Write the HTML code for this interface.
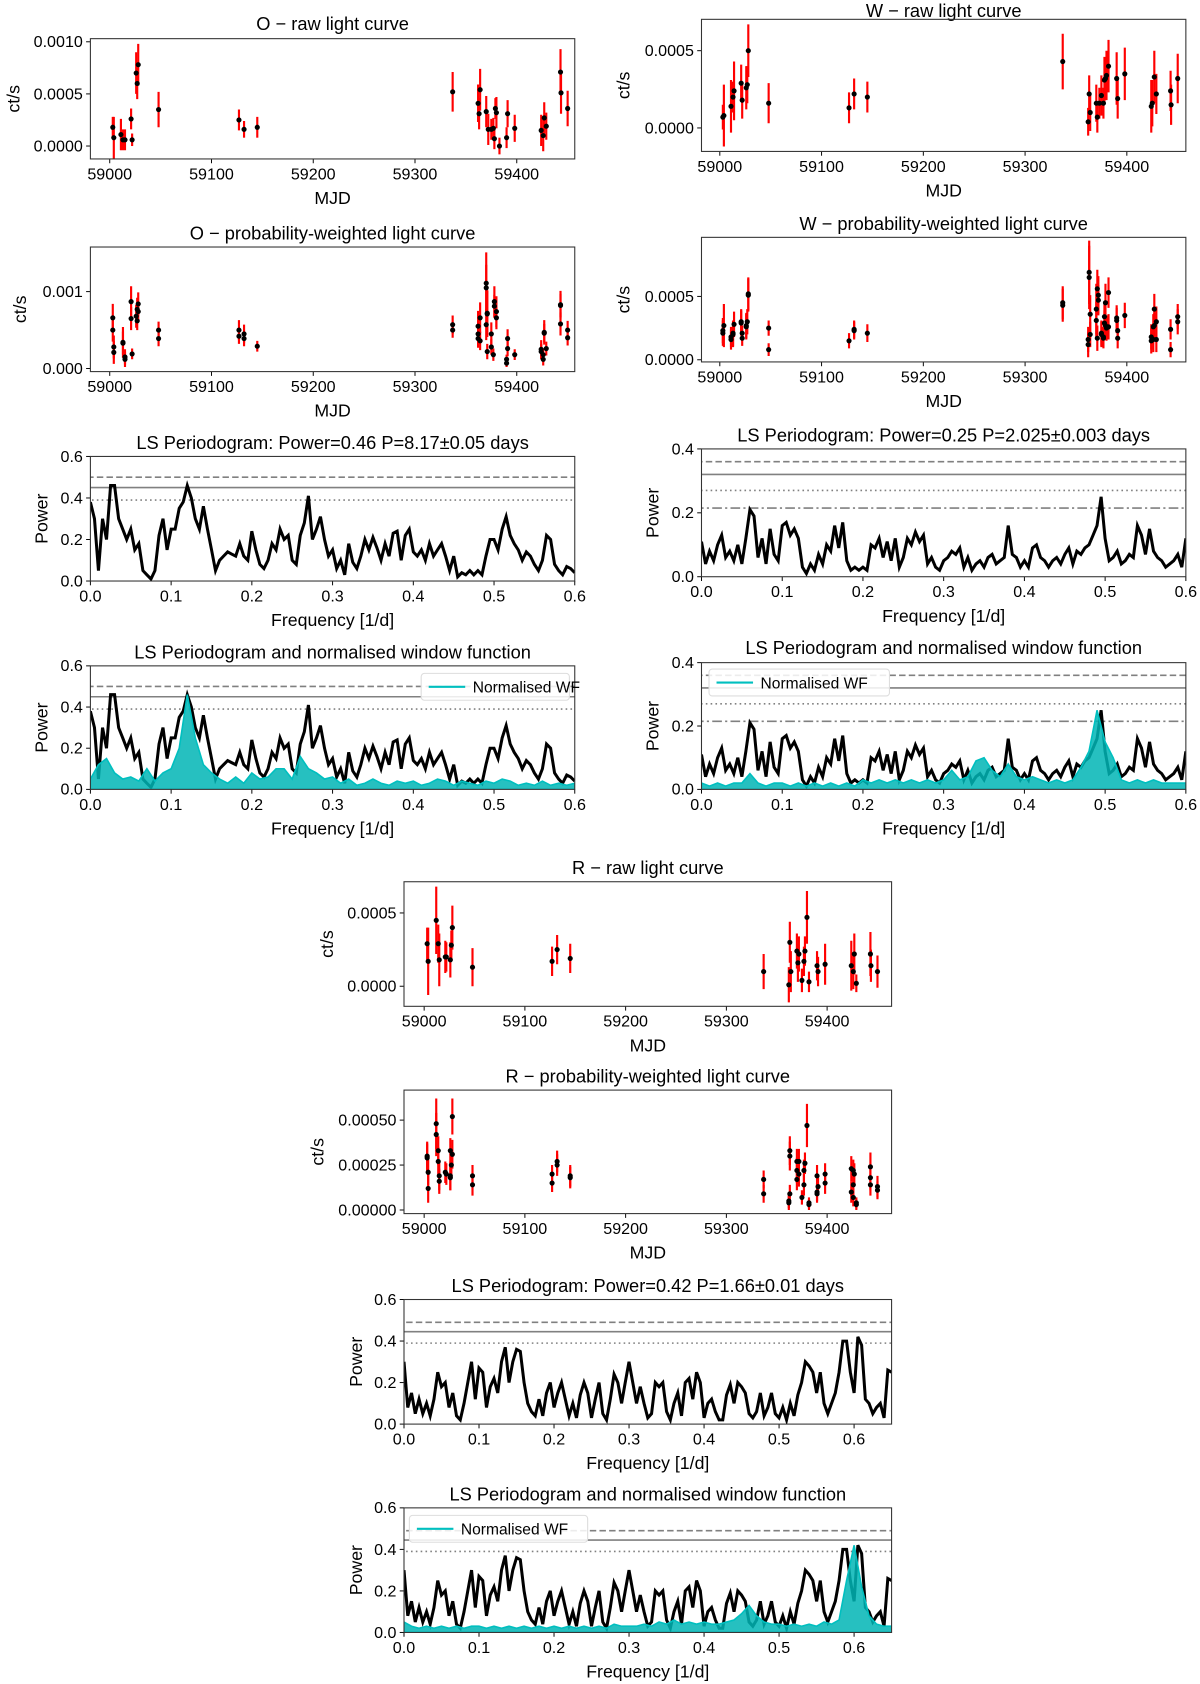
<!DOCTYPE html>
<html><head><meta charset="utf-8"><title>Light curves and LS periodograms</title>
<style>html,body{margin:0;padding:0;background:#fff;}svg{display:block;font-family:"Liberation Sans",sans-serif;}</style>
</head><body>
<svg id="fig" xmlns="http://www.w3.org/2000/svg" width="1200" height="1684" viewBox="0 0 1117 1568"></svg>
<script>
// ---------- DATA ----------
// O raw
const oRawT=[59003,59004,59011,59013,59015,59021,59022,59026,59027,59028,59048,59127,59132,59145,59337,59362,59363,59364,59370,59372,59375,59377,59378,59379,59380,59383,59390,59391,59398,59424,59426,59427,59429,59443,59443.5,59450];
const oRawY=[0.00018,0.00008,0.00011,0.00006,0.00006,0.00026,0.00006,0.00070,0.00060,0.00078,0.00035,0.00025,0.00016,0.00018,0.00052,0.00041,0.00031,0.00054,0.00033,0.00016,0.00016,0.00017,0.00007,0.00036,0.00032,0.00000,0.00008,0.00031,0.00017,0.00015,0.00010,0.00027,0.00019,0.00071,0.00051,0.00036];
const oRawE=[0.0001,0.0002,0.00015,0.0001,0.0001,0.0001,0.00006,0.0002,0.00015,0.0002,0.00017,0.0001,0.00008,0.0001,0.00019,0.00018,0.00015,0.0002,0.00015,0.00015,0.0001,0.0001,0.0001,0.0001,0.00015,0.00008,0.0001,0.00013,0.00013,0.00015,0.00015,0.00015,0.00013,0.00022,0.0002,0.00017];
// O probability-weighted
const oPrT=[59003,59003,59004,59004,59013,59013,59015,59015,59021,59021,59022,59026,59027,59027,59028,59028,59048,59048,59127,59127,59132,59132,59145,59337,59337,59362,59362,59362,59364,59364,59370,59370,59370,59371,59371,59371,59375,59375,59377,59378,59378,59380,59380,59390,59390,59391,59391,59398,59424,59424,59426,59426,59427,59427,59429,59443,59443,59443,59450,59450];
const oPrY=[0.00066,0.0005,0.00028,0.00021,0.00034,0.00033,0.00015,0.00012,0.00087,0.00065,0.00019,0.00068,0.00077,0.00062,0.00084,0.00074,0.0005,0.00039,0.0005,0.00042,0.00045,0.00039,0.00029,0.00057,0.0005,0.00045,0.00055,0.00039,0.00066,0.00036,0.00111,0.00105,0.00057,0.00072,0.00071,0.00022,0.00045,0.00028,0.00018,0.00087,0.00081,0.00074,0.00066,0.00012,0.00007,0.00039,0.00026,0.00018,0.00025,0.00022,0.00012,0.00018,0.00047,0.00046,0.00026,0.00083,0.00082,0.00058,0.0005,0.0004];
const oPrE=[0.00018,0.00015,0.00015,0.00015,0.0002,0.00015,0.0001,0.0001,0.0002,0.00015,0.00007,0.00015,0.00015,0.00012,0.00015,0.00012,0.00011,0.0001,0.00013,0.0001,0.00012,0.0001,0.00007,0.00012,0.0001,0.00016,0.0002,0.00012,0.0002,0.00012,0.0004,0.0003,0.0002,0.0003,0.0003,0.0001,0.00015,0.0001,0.00008,0.0002,0.00015,0.0002,0.00015,0.00006,0.00005,0.00012,0.0001,0.00007,0.00012,0.0001,0.00008,0.00008,0.00016,0.00012,0.00009,0.00018,0.00015,0.00015,0.00012,0.0001];
// W raw
const wRawT=[59003,59004,59011,59013,59014,59021,59022,59026,59027,59028,59048,59127,59132,59145,59337,59362,59363,59364,59370,59371,59373,59375,59377,59378,59379,59380,59382,59390,59391,59398,59424,59425,59427,59429,59443,59443.5,59450];
const wRawY=[0.00007,0.00008,0.00014,0.0002,0.00024,0.00029,0.00018,0.00026,0.00028,0.0005,0.00016,0.00013,0.00022,0.0002,0.00043,0.00004,0.00022,0.0001,0.00016,0.00007,0.00016,0.00021,0.00016,0.00031,0.00032,0.00034,0.0004,0.00032,0.00019,0.00035,0.00014,0.00016,0.00033,0.00022,0.00024,0.00015,0.00032];
const wRawE=[0.00008,0.0002,0.00017,0.0001,0.00019,0.00012,0.00012,0.00014,0.00012,0.00017,0.00013,0.0001,0.0001,0.0001,0.00018,0.00009,0.00012,0.00012,0.00012,0.0001,0.0001,0.00013,0.0001,0.00015,0.0001,0.00016,0.00017,0.00017,0.00013,0.00017,0.00017,0.00015,0.00017,0.00013,0.00013,0.00013,0.00016];
// W probability-weighted
const wPrT=[59003,59003,59004,59011,59011,59013,59013,59014,59021,59021,59022,59022,59026,59026,59027,59028,59028,59048,59048,59127,59132,59132,59145,59337,59337,59362,59362,59363,59363,59364,59364,59370,59370,59371,59371,59372,59372,59375,59375,59377,59377,59378,59378,59379,59379,59380,59382,59382,59390,59390,59391,59391,59398,59424,59424,59426,59426,59427,59427,59429,59429,59443,59443,59450,59450];
const wPrY=[0.00023,0.00021,0.00027,0.00016,0.00018,0.0002,0.00021,0.00028,0.0003,0.00029,0.00017,0.00021,0.00027,0.00026,0.0003,0.00051,0.00052,0.00025,0.00008,0.00015,0.00023,0.00024,0.00021,0.00043,0.00045,0.00016,0.00012,0.00069,0.00065,0.00036,0.0002,0.0004,0.00031,0.00056,0.00017,0.00051,0.00047,0.00021,0.0002,0.00018,0.00017,0.00034,0.00029,0.00045,0.00027,0.00025,0.00053,0.00026,0.00033,0.00031,0.00023,0.00017,0.00035,0.00018,0.00015,0.00026,0.00016,0.0004,0.00027,0.0003,0.00016,0.00024,0.00008,0.00034,0.0003];
const wPrE=[0.0001,0.0001,0.00017,0.00008,0.00008,0.0001,0.0001,0.0001,0.0001,0.0001,0.00006,0.00006,0.0001,0.0001,0.0001,0.00013,0.00013,0.00006,0.00005,0.00006,0.00007,0.00007,0.00007,0.00013,0.00013,0.0001,0.0001,0.00025,0.00025,0.00015,0.0001,0.0002,0.00015,0.00015,0.0001,0.00015,0.00012,0.0001,0.0001,0.00008,0.00008,0.00012,0.0001,0.00015,0.0001,0.0001,0.00012,0.0001,0.0001,0.0001,0.00008,0.00008,0.0001,0.0001,0.0001,0.0001,0.0001,0.00012,0.0001,0.00012,0.0001,0.00008,0.00006,0.0001,0.0001];
// R raw
const rRawT=[59003,59004,59012,59014,59015,59021,59022,59026,59027,59028,59048,59127,59132,59145,59337,59362,59363,59364,59370,59371,59372,59375,59377,59378,59380,59382,59390,59391,59398,59424,59426,59427,59429,59443,59443.5,59450];
const rRawY=[0.00029,0.00017,0.00045,0.00029,0.00018,0.0002,0.0002,0.00018,0.00028,0.0004,0.00013,0.00017,0.00025,0.00019,0.0001,0.00001,0.0003,0.0001,0.00024,0.00016,0.00022,0.00004,0.00017,0.00024,0.00047,0.00003,0.00014,0.0001,0.00015,0.00014,0.0001,0.00022,0.00002,0.00022,0.00014,0.0001];
const rRawE=[0.00011,0.00023,0.00023,0.00013,0.00018,0.00011,0.0001,0.00012,0.0001,0.00015,0.00013,0.0001,0.0001,0.0001,0.00012,0.00012,0.00014,0.00014,0.00012,0.00013,0.00012,0.00008,0.0001,0.0001,0.00018,0.00007,0.0001,0.0001,0.00014,0.00017,0.00012,0.00014,0.00006,0.00015,0.00011,0.00011];
// R probability-weighted
const rPrT=[59003,59003,59004,59004,59012,59012,59014,59014,59015,59015,59021,59022,59026,59026,59026,59027,59028,59028,59048,59048,59127,59127,59132,59132,59145,59145,59337,59337,59362,59362,59363,59363,59363,59370,59370,59370,59372,59372,59375,59377,59377,59378,59380,59382,59382,59390,59390,59390,59391,59398,59398,59424,59424,59426,59426,59426,59427,59429,59429,59443,59443,59443,59450,59450];
const rPrY=[0.0003,0.00029,0.00021,0.00012,0.00048,0.00042,0.00033,0.00027,0.00019,0.00016,0.00021,0.0002,0.00019,0.00018,0.00033,0.00025,0.00052,0.00031,0.00019,0.00014,0.0002,0.00015,0.00027,0.00025,0.00019,0.00018,0.00017,0.00009,0.00005,0.00004,0.00033,0.0003,0.00009,0.00027,0.00022,0.00017,0.0002,0.00027,0.00007,0.00014,0.00022,0.00026,0.00047,0.00004,0.00003,0.00019,0.00009,0.0001,0.00013,0.0002,0.00015,0.00023,0.0001,0.00014,0.00007,0.00022,0.0002,0.00004,0.00003,0.00024,0.00018,0.00014,0.00013,0.00011];
const rPrE=[0.00008,0.00008,0.00007,0.00008,0.00014,0.00012,0.00008,0.00008,0.00008,0.00007,0.00006,0.00006,0.00008,0.00007,0.00007,0.00007,0.0001,0.00008,0.00006,0.00006,0.00005,0.00005,0.00006,0.00006,0.00006,0.00006,0.00005,0.00005,0.00004,0.00004,0.00008,0.00008,0.00005,0.00007,0.00007,0.00006,0.00007,0.00007,0.00004,0.00006,0.00006,0.00006,0.00012,0.00003,0.00003,0.00006,0.00005,0.00005,0.00005,0.00006,0.00006,0.00007,0.00006,0.00006,0.00005,0.00006,0.00006,0.00003,0.00003,0.00008,0.00007,0.00006,0.00006,0.00005];

// Periodograms: power sampled every 0.005 1/d
const oLsPower=[0.38,0.3,0.05,0.3,0.2,0.46,0.46,0.3,0.25,0.2,0.25,0.15,0.18,0.05,0.03,0.01,0.05,0.22,0.3,0.15,0.25,0.25,0.35,0.38,0.46,0.4,0.3,0.25,0.36,0.25,0.15,0.05,0.1,0.12,0.14,0.13,0.12,0.18,0.12,0.1,0.24,0.15,0.08,0.06,0.1,0.18,0.15,0.25,0.2,0.22,0.1,0.08,0.22,0.28,0.41,0.2,0.25,0.31,0.2,0.12,0.15,0.06,0.1,0.03,0.18,0.09,0.06,0.12,0.2,0.15,0.21,0.16,0.1,0.18,0.12,0.23,0.24,0.1,0.22,0.25,0.14,0.12,0.15,0.1,0.18,0.12,0.15,0.18,0.12,0.05,0.12,0.02,0.04,0.03,0.05,0.03,0.05,0.03,0.12,0.2,0.2,0.15,0.25,0.31,0.22,0.18,0.15,0.1,0.14,0.12,0.08,0.05,0.1,0.22,0.2,0.08,0.05,0.03,0.07,0.06,0.04];
const wLsPower=[0.11,0.04,0.08,0.05,0.1,0.13,0.06,0.08,0.05,0.1,0.04,0.12,0.21,0.19,0.06,0.12,0.04,0.15,0.07,0.05,0.16,0.17,0.13,0.15,0.12,0.03,0.01,0.04,0.02,0.07,0.04,0.1,0.08,0.16,0.09,0.17,0.05,0.02,0.03,0.02,0.03,0.02,0.1,0.09,0.12,0.06,0.11,0.05,0.12,0.03,0.06,0.12,0.1,0.14,0.11,0.13,0.04,0.06,0.03,0.02,0.05,0.06,0.08,0.07,0.09,0.03,0.06,0.02,0.04,0.05,0.03,0.06,0.07,0.04,0.05,0.06,0.16,0.07,0.06,0.03,0.05,0.03,0.09,0.1,0.06,0.05,0.03,0.05,0.06,0.04,0.07,0.09,0.04,0.08,0.07,0.09,0.1,0.13,0.16,0.25,0.12,0.05,0.06,0.08,0.04,0.05,0.07,0.06,0.16,0.13,0.07,0.15,0.08,0.06,0.05,0.03,0.04,0.05,0.07,0.03,0.12];
const rLsPower=[0.3,0.08,0.15,0.05,0.12,0.05,0.1,0.04,0.12,0.25,0.18,0.2,0.08,0.15,0.04,0.02,0.1,0.2,0.3,0.12,0.27,0.25,0.08,0.18,0.22,0.15,0.3,0.37,0.2,0.3,0.36,0.35,0.2,0.1,0.06,0.04,0.12,0.04,0.15,0.2,0.08,0.15,0.2,0.12,0.04,0.1,0.03,0.14,0.2,0.15,0.03,0.12,0.2,0.05,0.02,0.12,0.24,0.2,0.1,0.2,0.3,0.2,0.1,0.18,0.1,0.03,0.05,0.2,0.18,0.2,0.06,0.02,0.1,0.15,0.04,0.2,0.22,0.12,0.25,0.2,0.03,0.1,0.12,0.06,0.02,0.02,0.14,0.19,0.1,0.2,0.18,0.15,0.05,0.03,0.06,0.15,0.04,0.08,0.15,0.05,0.03,0.08,0.02,0.1,0.04,0.14,0.2,0.3,0.28,0.25,0.15,0.25,0.1,0.05,0.1,0.15,0.25,0.4,0.4,0.25,0.15,0.42,0.38,0.12,0.1,0.05,0.08,0.1,0.03,0.26,0.25];
// Window functions: sampled every 0.01 1/d
const oWf=[0.05,0.12,0.15,0.08,0.05,0.06,0.04,0.1,0.04,0.08,0.1,0.2,0.46,0.25,0.12,0.08,0.05,0.03,0.06,0.03,0.08,0.05,0.06,0.1,0.1,0.05,0.16,0.1,0.08,0.05,0.06,0.03,0.05,0.02,0.03,0.05,0.03,0.02,0.04,0.03,0.04,0.02,0.03,0.05,0.04,0.02,0.04,0.03,0.02,0.04,0.03,0.05,0.04,0.02,0.03,0.02,0.04,0.02,0.03,0.02,0.03];
const wWf=[0.02,0.01,0.02,0.01,0.02,0.02,0.05,0.02,0.01,0.02,0.02,0.01,0.02,0.01,0.02,0.01,0.02,0.01,0.02,0.01,0.03,0.02,0.03,0.02,0.03,0.02,0.03,0.02,0.03,0.02,0.03,0.06,0.03,0.04,0.09,0.1,0.06,0.04,0.08,0.04,0.03,0.04,0.03,0.02,0.03,0.02,0.03,0.07,0.12,0.25,0.15,0.1,0.03,0.02,0.03,0.02,0.03,0.02,0.02,0.02,0.02];
const rWf=[0.05,0.03,0.02,0.03,0.02,0.03,0.02,0.03,0.02,0.03,0.03,0.02,0.03,0.02,0.03,0.02,0.03,0.02,0.03,0.02,0.03,0.02,0.03,0.02,0.03,0.02,0.03,0.02,0.04,0.03,0.03,0.03,0.04,0.03,0.05,0.04,0.06,0.04,0.05,0.04,0.05,0.04,0.04,0.05,0.06,0.09,0.13,0.08,0.05,0.04,0.04,0.03,0.04,0.03,0.04,0.03,0.05,0.04,0.06,0.25,0.42,0.22,0.08,0.04,0.03,0.03];

// Significance levels
const oLevels=[0.50,0.45,0.39];
const wLevels=[0.36,0.32,0.27,0.215];
const rLevels=[0.49,0.445,0.39];

const mjdTicks=[59000,59100,59200,59300,59400];
const mjdTickLabels=["59000","59100","59200","59300","59400"];
const freqTicks=[0,0.1,0.2,0.3,0.4,0.5,0.6];
const freqTickLabels=["0.0","0.1","0.2","0.3","0.4","0.5","0.6"];

// ---------- DRAWING ----------
const NS="http://www.w3.org/2000/svg";
const svg=document.getElementById('fig');
function mk(tag,attrs,parent){const e=document.createElementNS(NS,tag);for(const k in attrs)e.setAttribute(k,attrs[k]);(parent||svg).appendChild(e);return e;}
function txt(s,x,y,size,anchor,parent){const e=mk('text',{x:x,y:y,'font-size':size,'text-anchor':anchor||'middle',fill:'#000'},parent);e.textContent=s;return e;}

function panel(p){
  const g=mk('g',{});
  
  
  const sx=v=>p.x0+(v-p.xlim[0])/(p.xlim[1]-p.xlim[0])*(p.x1-p.x0);
  const sy=v=>p.y1-(v-p.ylim[0])/(p.ylim[1]-p.ylim[0])*(p.y1-p.y0);
  const t=txt(p.title,(p.x0+p.x1)/2,p.titleY,17,'middle',g);
  
  
  p.xticks.forEach((v,i)=>{const x=sx(v);
    mk('line',{x1:x,x2:x,y1:p.y1,y2:p.y1+4,stroke:'#000','stroke-width':0.9},g);
    const l=txt(p.xtickLabels[i],x,p.y1+19,15,'middle',g);
    
    });
  p.yticks.forEach((v,i)=>{const y=sy(v);
    mk('line',{x1:p.x0-4,x2:p.x0,y1:y,y2:y,stroke:'#000','stroke-width':0.9},g);
    const l=txt(p.ytickLabels[i],p.x0-7,y+5,15,'end',g);
    
    });
  const xl=txt(p.xlabel,(p.x0+p.x1)/2,p.y1+42,16.5,'middle',g);
  
  
  const cy=(p.y0+p.y1)/2;
  const yl=txt(p.ylabel,p.ylabelX,cy,16.5,'middle',g);
  yl.setAttribute('transform','rotate(-90 '+p.ylabelX+' '+cy+')');
  
  
  const clipId='c'+Math.round(p.x0)+'_'+Math.round(p.y0);
  const cp=mk('clipPath',{id:clipId},g);mk('rect',{x:p.x0,y:p.y0,width:p.x1-p.x0,height:p.y1-p.y0},cp);
  const plot=mk('g',{'clip-path':'url(#'+clipId+')'},g);
  p.draw(plot,sx,sy);
  const fr=mk('rect',{x:p.x0,y:p.y0,width:p.x1-p.x0,height:p.y1-p.y0,fill:'none',stroke:'#333','stroke-width':1},g);
  
  
  if(p.after)p.after(g,sx,sy);
}

function lightCurve(T,Y,E){return function(g,sx,sy){
  T.forEach((t,i)=>{const x=sx(t);
    const eb=mk('line',{x1:x,x2:x,y1:sy(Y[i]-E[i]),y2:sy(Y[i]+E[i]),stroke:'#ff0000','stroke-width':2},g);
    
    });
  T.forEach((t,i)=>{
    const pt=mk('circle',{cx:sx(t),cy:sy(Y[i]),r:2.4,fill:'#000'},g);
    
    });
};}

const levelStyles=['6,3','','1.5,3','9,3,2,3'];
function periodogram(P,step,levels,wf,wfStep){return function(g,sx,sy){
  levels.forEach((v,i)=>{const y=sy(v);
    const l=mk('line',{x1:0,x2:1200,y1:y,y2:y,stroke:'#808080','stroke-width':1.5},g);
    if(levelStyles[i])l.setAttribute('stroke-dasharray',levelStyles[i]);
    
    });
  const pts=P.map((v,i)=>sx(i*step).toFixed(1)+','+sy(v).toFixed(1)).join(' ');
  const pl=mk('polyline',{points:pts,fill:'none',stroke:'#000','stroke-width':2.8,'stroke-linejoin':'miter'},g);
  
  
  if(wf){
    let d='M'+sx(0)+','+sy(0);
    wf.forEach((v,i)=>{d+=' L'+sx(i*wfStep).toFixed(1)+','+sy(v).toFixed(1);});
    d+=' L'+sx((wf.length-1)*wfStep)+','+sy(0)+' Z';
    const a=mk('path',{d:d,fill:'#00b5b5','fill-opacity':0.85,stroke:'#00bfbf','stroke-width':1.5},g);
    
    
  }
};}

function legend(x,y,w){return function(g){
  const lg=mk('g',{},g);
  
  
  mk('rect',{x:x,y:y,width:w,height:25,rx:3,fill:'#fff','fill-opacity':0.85,stroke:'#ddd'},lg);
  mk('line',{x1:x+7,x2:x+41,y1:y+12.5,y2:y+12.5,stroke:'#00bfbf','stroke-width':2},lg);
  const t=txt('Normalised WF',x+48,y+18,14.5,'start',lg);
  
  
};}

const mjd={xticks:mjdTicks,xtickLabels:mjdTickLabels,xlabel:'MJD',ylabel:'ct/s'};
const frq={xticks:freqTicks,xtickLabels:freqTickLabels,xlabel:'Frequency [1/d]',ylabel:'Power'};

panel(Object.assign({},mjd,{name:'o-raw-light-curve',x0:84,x1:535,y0:36,y1:148,xlim:[58981,59457],ylim:[-0.000124,0.00103],yticks:[0,0.0005,0.001],ytickLabels:['0.0000','0.0005','0.0010'],title:'O \u2212 raw light curve',titleY:28,ylabelX:18,draw:lightCurve(oRawT,oRawY,oRawE)}));
panel(Object.assign({},mjd,{name:'o-weighted-light-curve',x0:84,x1:535,y0:230,y1:346,xlim:[58981,59457],ylim:[-0.00004,0.00158],yticks:[0,0.001],ytickLabels:['0.000','0.001'],title:'O \u2212 probability-weighted light curve',titleY:223,ylabelX:24,draw:lightCurve(oPrT,oPrY,oPrE)}));
panel(Object.assign({},frq,{name:'o-ls-periodogram',x0:84,x1:535,y0:425,y1:541,xlim:[0,0.6],ylim:[0,0.6],yticks:[0,0.2,0.4,0.6],ytickLabels:['0.0','0.2','0.4','0.6'],title:'LS Periodogram: Power=0.46 P=8.17\u00b10.05 days',titleY:418,ylabelX:44,draw:periodogram(oLsPower,0.005,oLevels)}));
panel(Object.assign({},frq,{name:'o-ls-window-function',x0:84,x1:535,y0:620,y1:735,xlim:[0,0.6],ylim:[0,0.6],yticks:[0,0.2,0.4,0.6],ytickLabels:['0.0','0.2','0.4','0.6'],title:'LS Periodogram and normalised window function',titleY:613,ylabelX:44,draw:periodogram(oLsPower,0.005,oLevels,oWf,0.01),after:legend(392,627,138)}));
panel(Object.assign({},mjd,{name:'w-raw-light-curve',x0:653,x1:1104,y0:18,y1:141,xlim:[58982,59458],ylim:[-0.000152,0.000703],yticks:[0,0.0005],ytickLabels:['0.0000','0.0005'],title:'W \u2212 raw light curve',titleY:16,ylabelX:586,draw:lightCurve(wRawT,wRawY,wRawE)}));
panel(Object.assign({},mjd,{name:'w-weighted-light-curve',x0:653,x1:1104,y0:221,y1:337,xlim:[58982,59458],ylim:[-0.000017,0.000966],yticks:[0,0.0005],ytickLabels:['0.0000','0.0005'],title:'W \u2212 probability-weighted light curve',titleY:214,ylabelX:586,draw:lightCurve(wPrT,wPrY,wPrE)}));
panel(Object.assign({},frq,{name:'w-ls-periodogram',x0:653,x1:1104,y0:418,y1:537,xlim:[0,0.6],ylim:[0,0.4],yticks:[0,0.2,0.4],ytickLabels:['0.0','0.2','0.4'],title:'LS Periodogram: Power=0.25 P=2.025\u00b10.003 days',titleY:411,ylabelX:613,draw:periodogram(wLsPower,0.005,wLevels)}));
panel(Object.assign({},frq,{name:'w-ls-window-function',x0:653,x1:1104,y0:617,y1:735,xlim:[0,0.6],ylim:[0,0.4],yticks:[0,0.2,0.4],ytickLabels:['0.0','0.2','0.4'],title:'LS Periodogram and normalised window function',titleY:609,ylabelX:613,draw:periodogram(wLsPower,0.005,wLevels,wWf,0.01),after:legend(660,623,168)}));
panel(Object.assign({},mjd,{name:'r-raw-light-curve',x0:376,x1:830,y0:821,y1:937,xlim:[58980,59464],ylim:[-0.000137,0.000713],yticks:[0,0.0005],ytickLabels:['0.0000','0.0005'],title:'R \u2212 raw light curve',titleY:814,ylabelX:310,draw:lightCurve(rRawT,rRawY,rRawE)}));
panel(Object.assign({},mjd,{name:'r-weighted-light-curve',x0:376,x1:830,y0:1015,y1:1130,xlim:[58980,59464],ylim:[-0.00002,0.000667],yticks:[0,0.00025,0.0005],ytickLabels:['0.00000','0.00025','0.00050'],title:'R \u2212 probability-weighted light curve',titleY:1008,ylabelX:301,draw:lightCurve(rPrT,rPrY,rPrE)}));
panel(Object.assign({},frq,{name:'r-ls-periodogram',x0:376,x1:830,y0:1210,y1:1326,xlim:[0,0.65],ylim:[0,0.6],yticks:[0,0.2,0.4,0.6],ytickLabels:['0.0','0.2','0.4','0.6'],title:'LS Periodogram: Power=0.42 P=1.66\u00b10.01 days',titleY:1203,ylabelX:337,draw:periodogram(rLsPower,0.005,rLevels)}));
panel(Object.assign({},frq,{name:'r-ls-window-function',x0:376,x1:830,y0:1404,y1:1520,xlim:[0,0.65],ylim:[0,0.6],yticks:[0,0.2,0.4,0.6],ytickLabels:['0.0','0.2','0.4','0.6'],title:'LS Periodogram and normalised window function',titleY:1397,ylabelX:337,draw:periodogram(rLsPower,0.005,rLevels,rWf,0.01),after:legend(381,1411,166)}));
</script>
</body></html>
